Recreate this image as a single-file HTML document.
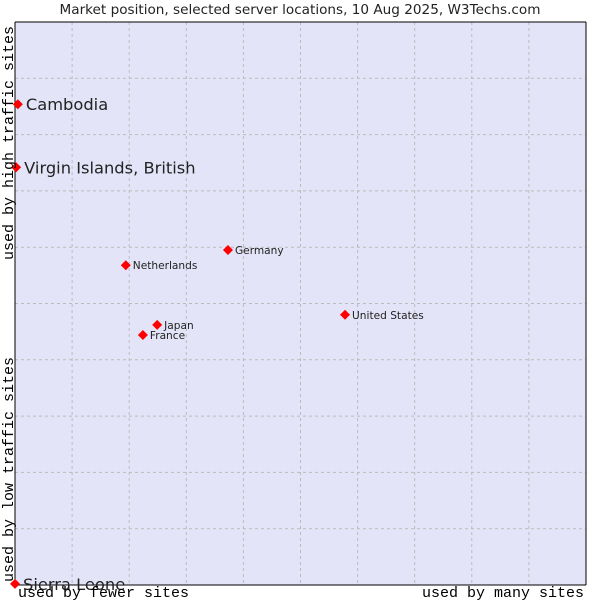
<!DOCTYPE html>
<html><head><meta charset="utf-8"><style>
body{margin:0;background:#fff;width:600px;height:600px;overflow:hidden}
svg{display:block}
</style></head><body>
<svg width="600" height="600" xmlns="http://www.w3.org/2000/svg">
<text x="300" y="14" text-anchor="middle" font-family="DejaVu Sans, sans-serif" font-size="13.6" fill="#222">Market position, selected server locations, 10 Aug 2025, W3Techs.com</text>
<rect x="15" y="22" width="571" height="563" fill="#e4e4f8"/>
<g id="grid"></g>
<line x1="15" y1="22" x2="586" y2="22" stroke="#000"/>
<line x1="586" y1="22" x2="586" y2="585" stroke="#000"/>
<line x1="15" y1="22" x2="15" y2="585" stroke="#000"/>
<line x1="15" y1="585" x2="586" y2="585" stroke="#000"/>
<g id="points"></g>
<text x="18" y="597" font-family="Liberation Mono, DejaVu Sans Mono, monospace" font-size="15" fill="#000">used by fewer sites</text>
<text x="584" y="597" text-anchor="end" font-family="Liberation Mono, DejaVu Sans Mono, monospace" font-size="15" fill="#000">used by many sites</text>
<text transform="translate(13,582) rotate(-90)" font-family="Liberation Mono, DejaVu Sans Mono, monospace" font-size="15" fill="#000">used by low traffic sites</text>
<text transform="translate(13,260) rotate(-90)" font-family="Liberation Mono, DejaVu Sans Mono, monospace" font-size="15" fill="#000">used by high traffic sites</text>
</svg>
<script>
const names=["Cambodia","Virgin Islands, British","Netherlands","Germany","Japan","France","United States","Sierra Leone"];
const xVals=[0.5,0.2,19.4,37.3,24.9,22.4,57.8,0];
const yVals=[85.4,74.2,56.8,59.5,46.2,44.4,48.0,0.2];
const bigLabel=[true,true,false,false,false,false,false,true];
const NS="http://www.w3.org/2000/svg";
const X=v=>15+v*5.71, Y=v=>585-v*5.63;
const g=document.getElementById('grid');
for(let i=1;i<10;i++){
  const l=document.createElementNS(NS,'line');
  l.setAttribute('x1',X(i*10));l.setAttribute('x2',X(i*10));l.setAttribute('y1',22);l.setAttribute('y2',585);
  l.setAttribute('stroke','#bbbbbb');l.setAttribute('stroke-dasharray','3,3');
  
  
  g.appendChild(l);
  const h=document.createElementNS(NS,'line');
  h.setAttribute('y1',Y(i*10));h.setAttribute('y2',Y(i*10));h.setAttribute('x1',15);h.setAttribute('x2',586);
  h.setAttribute('stroke','#bbbbbb');h.setAttribute('stroke-dasharray','3,3');
  
  
  g.appendChild(h);
}
const p=document.getElementById('points');
names.forEach((n,i)=>{
  const x=X(xVals[i]),y=Y(yVals[i]);
  const d=document.createElementNS(NS,'path');
  d.setAttribute('d',`M${x-5},${y}L${x},${y-5}L${x+5},${y}L${x},${y+5}Z`);
  d.setAttribute('fill','#f00');
  
  
  p.appendChild(d);
  const t=document.createElementNS(NS,'text');
  t.setAttribute('x',x+(bigLabel[i]?8:7));
  t.setAttribute('y',y+(bigLabel[i]?6:4));
  t.setAttribute('font-family','DejaVu Sans, sans-serif');
  t.setAttribute('font-size',bigLabel[i]?'16.3':'10.6');
  t.setAttribute('fill','#222');
  t.textContent=n;
  
  
  p.appendChild(t);
});
</script>
</body></html>
